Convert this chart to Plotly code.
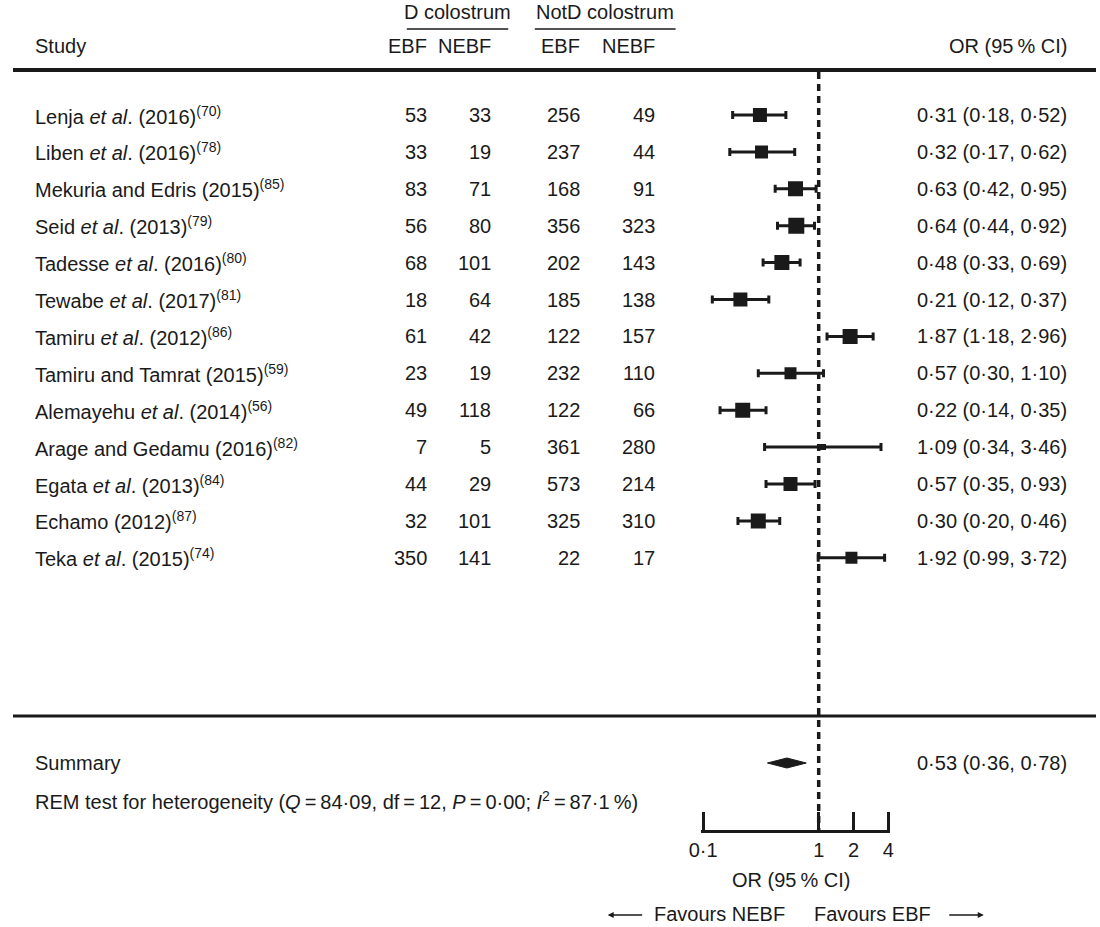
import plotly.graph_objects as go

# ---------------- data ----------------
studies = [
    "Lenja <i>et al</i>. (2016)", "Liben <i>et al</i>. (2016)", "Mekuria and Edris (2015)",
    "Seid <i>et al</i>. (2013)", "Tadesse <i>et al</i>. (2016)", "Tewabe <i>et al</i>. (2017)",
    "Tamiru <i>et al</i>. (2012)", "Tamiru and Tamrat (2015)", "Alemayehu <i>et al</i>. (2014)",
    "Arage and Gedamu (2016)", "Egata <i>et al</i>. (2013)", "Echamo (2012)",
    "Teka <i>et al</i>. (2015)",
]
refs = ["70", "78", "85", "79", "80", "81", "86", "59", "56", "82", "84", "87", "74"]
d_ebf = [53, 33, 83, 56, 68, 18, 61, 23, 49, 7, 44, 32, 350]
d_nebf = [33, 19, 71, 80, 101, 64, 42, 19, 118, 5, 29, 101, 141]
notd_ebf = [256, 237, 168, 356, 202, 185, 122, 232, 122, 361, 573, 325, 22]
notd_nebf = [49, 44, 91, 323, 143, 138, 157, 110, 66, 280, 214, 310, 17]
or_est = [0.31, 0.32, 0.63, 0.64, 0.48, 0.21, 1.87, 0.57, 0.22, 1.09, 0.57, 0.30, 1.92]
or_lo = [0.18, 0.17, 0.42, 0.44, 0.33, 0.12, 1.18, 0.30, 0.14, 0.34, 0.35, 0.20, 0.99]
or_hi = [0.52, 0.62, 0.95, 0.92, 0.69, 0.37, 2.96, 1.10, 0.35, 3.46, 0.93, 0.46, 3.72]
summary_or = [0.53, 0.36, 0.78]
tick_vals = [0.1, 1, 2, 4]
tick_text = ["0·1", "1", "2", "4"]

# ---------------- style ----------------
marker_px = [14, 13, 15, 16, 15, 14, 15, 12, 15, 6, 14, 15, 12]
INK = "#1a1a1a"
FONT = "Liberation Sans"
FS = 20
W, H = 1100, 927
ROW0, STEP = 115, 36.9
Y_SUM, Y_REM = 763, 800
Y_TOP_RULE, Y_MID_RULE = 70, 716
Y_AXIS = 831
X0_AX, X1_AX = 701, 889
COL_RIGHT = [423, 488, 578, 654]
X_OR_RIGHT = 1073
EPS = 0.016  # small padding so the end ticks are drawn


def fmt(v):
    return f"{v:.2f}".replace(".", "·")


rows_y = [ROW0 + i * STEP for i in range(len(studies))]

fig = go.Figure()

# reference line at OR = 1
fig.add_trace(go.Scatter(x=[1, 1], y=[Y_TOP_RULE + 2, Y_AXIS], mode="lines",
                         line=dict(color=INK, width=3.5, dash="7px,5px"),
                         hoverinfo="skip", showlegend=False))

# study estimates with CIs
fig.add_trace(go.Scatter(
    x=or_est, y=rows_y, mode="markers",
    marker=dict(symbol="square", size=marker_px, color=INK, opacity=1, line=dict(width=0)),
    error_x=dict(type="data", symmetric=False,
                 array=[h - e for h, e in zip(or_hi, or_est)],
                 arrayminus=[e - l for e, l in zip(or_est, or_lo)],
                 thickness=3, width=4, color=INK),
    showlegend=False, hoverinfo="skip"))

# summary diamond
se, sl, sh = summary_or
fig.add_trace(go.Scatter(x=[sl, se, sh, se, sl], y=[Y_SUM, Y_SUM - 5, Y_SUM, Y_SUM + 5, Y_SUM],
                         mode="lines", fill="toself", fillcolor=INK,
                         line=dict(color=INK, width=1), showlegend=False, hoverinfo="skip"))

ann = []


def txt(x, y, s, anchor="left", size=FS):
    ann.append(dict(x=x / W, y=y, xref="paper", yref="y", text=s, showarrow=False,
                    xanchor=anchor, yanchor="middle",
                    font=dict(family=FONT, size=size, color=INK)))


# headers
txt(20, 46, "Study")
txt(451, 12, "D colostrum", "center")
txt(601, 12, "NotD colostrum", "center")
for xr, lab in zip(COL_RIGHT, ["EBF", "NEBF", "EBF", "NEBF"]):
    txt(xr, 46, lab, "right")
txt(X_OR_RIGHT, 46, "OR (95\u2009% CI)", "right")

# rows
for i, y in enumerate(rows_y):
    txt(20, y, f"{studies[i]}<sup>({refs[i]})</sup>")
    for xr, col in zip(COL_RIGHT, [d_ebf, d_nebf, notd_ebf, notd_nebf]):
        txt(xr, y, str(col[i]), "right")
    txt(X_OR_RIGHT, y, f"{fmt(or_est[i])} ({fmt(or_lo[i])}, {fmt(or_hi[i])})", "right")

# summary
txt(20, Y_SUM, "Summary")
txt(X_OR_RIGHT, Y_SUM, f"{fmt(se)} ({fmt(sl)}, {fmt(sh)})", "right")
txt(20, Y_REM, "REM test for heterogeneity (<i>Q</i>\u2009=\u200984·09, df\u2009=\u200912, "
               "<i>P</i>\u2009=\u20090·00; <i>I</i><sup>2</sup>\u2009=\u200987·1\u2009%)")

# axis title and favours labels
txt(790, 880, "OR (95\u2009% CI)", "center")
txt(718, 914, "Favours NEBF", "center")
txt(873, 914, "Favours EBF", "center")
ann.append(dict(x=604 / W, y=915, xref="paper", yref="y", ax=36, ay=0, text="",
                showarrow=True, arrowhead=2, arrowsize=0.8, arrowwidth=1.5, arrowcolor=INK))
ann.append(dict(x=986 / W, y=915, xref="paper", yref="y", ax=-36, ay=0, text="",
                showarrow=True, arrowhead=2, arrowsize=0.8, arrowwidth=1.5, arrowcolor=INK))

shapes = [
    dict(type="line", xref="paper", yref="y", x0=0, x1=1, y0=Y_TOP_RULE, y1=Y_TOP_RULE,
         line=dict(color=INK, width=4)),
    dict(type="line", xref="paper", yref="y", x0=0, x1=1, y0=Y_MID_RULE, y1=Y_MID_RULE,
         line=dict(color=INK, width=3)),
    dict(type="line", xref="paper", yref="y", x0=400 / W, x1=503 / W, y0=29, y1=29,
         line=dict(color=INK, width=1.5)),
    dict(type="line", xref="paper", yref="y", x0=530 / W, x1=673 / W, y0=29, y1=29,
         line=dict(color=INK, width=1.5)),
]

PX_PER_DEC = (X1_AX - X0_AX) / (0.60206 + 1)
fig.update_layout(
    width=W, height=H, margin=dict(l=0, r=0, t=0, b=0),
    paper_bgcolor="white", plot_bgcolor="white",
    annotations=ann, shapes=shapes,
    xaxis=dict(type="log",
               domain=[(X0_AX - EPS * PX_PER_DEC) / W, (X1_AX + EPS * PX_PER_DEC) / W],
               range=[-1 - EPS, 0.60206 + EPS],
               anchor="free", position=(H - Y_AXIS) / H,
               showline=True, linewidth=3, linecolor=INK, mirror=False,
               ticks="inside", ticklen=18, tickwidth=3, tickcolor=INK,
               tickvals=tick_vals, ticktext=tick_text,
               tickfont=dict(family=FONT, size=FS, color=INK),
               showgrid=False, zeroline=False, fixedrange=True),
    yaxis=dict(range=[H, 0], domain=[0, 1], visible=False, showgrid=False,
               zeroline=False, fixedrange=True),
    showlegend=False,
)

fig.write_html("out.html", config={"displayModeBar": False},
               post_script="document.body.style.margin='0';document.body.style.overflow='hidden';")
